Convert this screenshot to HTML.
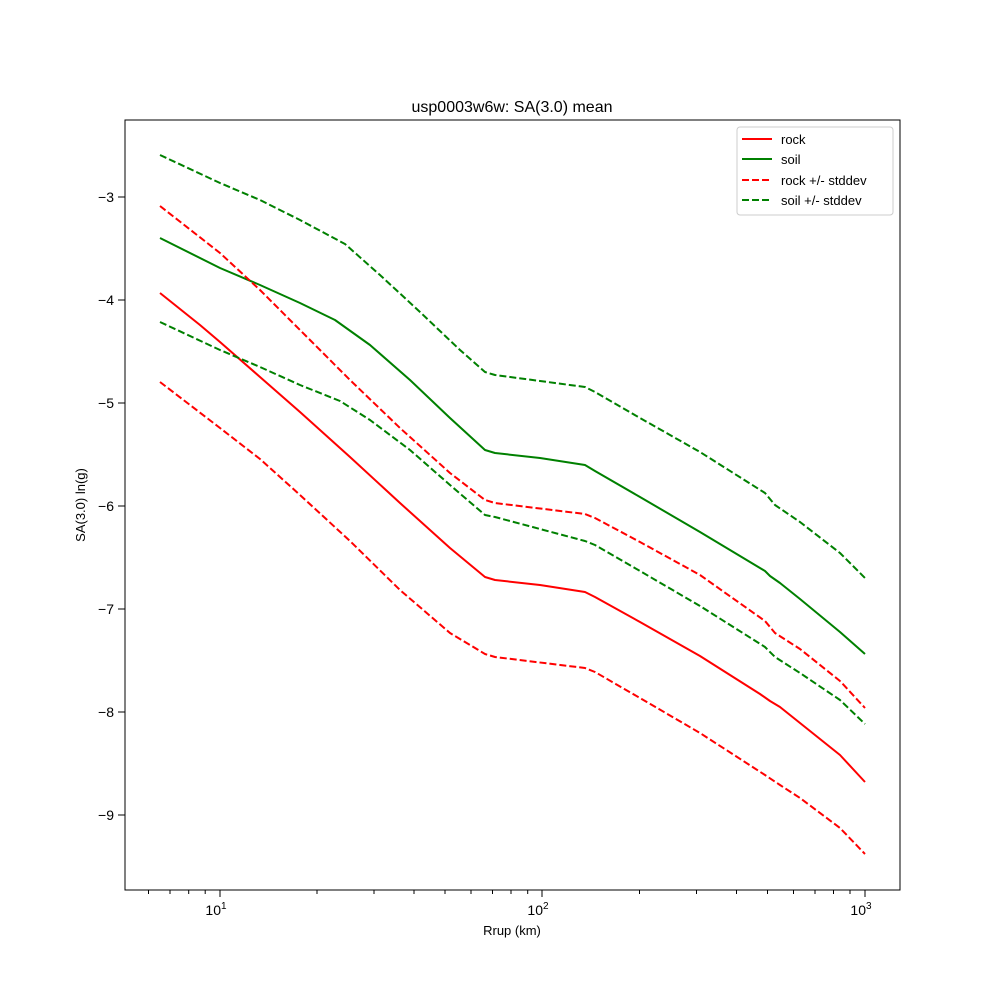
<!DOCTYPE html>
<html><head><meta charset="utf-8"><style>body{margin:0;background:#fff}</style></head><body>
<svg width="1000" height="1000" viewBox="0 0 1000 1000" xmlns="http://www.w3.org/2000/svg" font-family="Liberation Sans, DejaVu Sans, sans-serif">
<rect width="1000" height="1000" fill="#fff"/>
<g fill="none" stroke-width="2" stroke-linejoin="round">
<polyline stroke="#ff0000" points="160,293 175,305 200,325 220,342 260,377 300,412 350,457 400,503 450,548 485,577 495,580 540,585 585,592 595,597 640,622 700,656 760,694 770,701 780,707 800,723 840,755 865,782"/>
<polyline stroke="#008000" points="160,238 220,268 260,285 300,303 335,320 370,345 410,380 450,418 485,450 495,453 540,458 585,465 595,471 640,497 700,532 765,571 770,576 780,583 800,599 840,632 865,654"/>
<g stroke-dasharray="7,3">
<polyline stroke="#ff0000" points="160,206 220,253 260,290 300,330 350,380 400,428 450,473 485,500 495,503 585,514 595,518 640,542 700,575 765,621 775,633 800,649 840,681 865,708"/>
<polyline stroke="#ff0000" points="160,382 220,428 260,459 300,495 350,541 400,590 450,633 485,654 495,657 585,668 595,672 640,698 700,733 765,775 780,785 800,798 840,828 865,854"/>
<polyline stroke="#008000" points="160,155 220,183 260,200 300,220 345,244 380,275 420,312 460,350 485,372 495,375 585,387 595,392 640,418 700,452 765,493 775,505 800,522 840,553 865,578"/>
<polyline stroke="#008000" points="160,322 220,350 260,367 300,385 340,401 370,420 410,450 450,485 485,515 495,517 585,541 595,545 640,571 700,606 765,647 775,657 800,673 840,700 865,724"/>
</g>
</g>
<rect x="125" y="120" width="775" height="770" fill="none" stroke="#000" stroke-width="1"/>
<g stroke="#000" stroke-width="1">
<line x1="220" y1="890" x2="220" y2="897"/><line x1="542" y1="890" x2="542" y2="897"/><line x1="865" y1="890" x2="865" y2="897"/>
<g>
<line x1="148.5" y1="890" x2="148.5" y2="894"/><line x1="170" y1="890" x2="170" y2="894"/><line x1="188.7" y1="890" x2="188.7" y2="894"/><line x1="205.2" y1="890" x2="205.2" y2="894"/>
<line x1="317" y1="890" x2="317" y2="894"/><line x1="374" y1="890" x2="374" y2="894"/><line x1="414" y1="890" x2="414" y2="894"/><line x1="445" y1="890" x2="445" y2="894"/><line x1="471" y1="890" x2="471" y2="894"/><line x1="492.5" y1="890" x2="492.5" y2="894"/><line x1="511" y1="890" x2="511" y2="894"/><line x1="527.7" y1="890" x2="527.7" y2="894"/>
<line x1="639.5" y1="890" x2="639.5" y2="894"/><line x1="696.5" y1="890" x2="696.5" y2="894"/><line x1="736.5" y1="890" x2="736.5" y2="894"/><line x1="767.5" y1="890" x2="767.5" y2="894"/><line x1="793.5" y1="890" x2="793.5" y2="894"/><line x1="815" y1="890" x2="815" y2="894"/><line x1="833.5" y1="890" x2="833.5" y2="894"/><line x1="850" y1="890" x2="850" y2="894"/>
</g>
<line x1="118" y1="197" x2="125" y2="197"/><line x1="118" y1="300" x2="125" y2="300"/><line x1="118" y1="403" x2="125" y2="403"/><line x1="118" y1="506" x2="125" y2="506"/><line x1="118" y1="609" x2="125" y2="609"/><line x1="118" y1="712" x2="125" y2="712"/><line x1="118" y1="815" x2="125" y2="815"/>
</g>
<g font-size="14" fill="#000" text-anchor="middle">
<text x="216" y="915">10<tspan font-size="10" dy="-6">1</tspan></text>
<text x="538" y="915">10<tspan font-size="10" dy="-6">2</tspan></text>
<text x="861" y="915">10<tspan font-size="10" dy="-6">3</tspan></text>
</g>
<g font-size="14" fill="#000" text-anchor="end">
<text x="114" y="202">−3</text><text x="114" y="305">−4</text><text x="114" y="408">−5</text><text x="114" y="511">−6</text><text x="114" y="614">−7</text><text x="114" y="717">−8</text><text x="114" y="820">−9</text>
</g>
<text x="512" y="935" font-size="13" text-anchor="middle">Rrup (km)</text>
<text transform="translate(85,505) rotate(-90)" font-size="13" text-anchor="middle">SA(3.0) ln(g)</text>
<text x="512" y="112" font-size="16" text-anchor="middle">usp0003w6w: SA(3.0) mean</text>
<rect x="737" y="127" width="156" height="88" rx="3" fill="#fff" stroke="#ccc"/>
<g stroke-width="2">
<line x1="742" y1="139" x2="772" y2="139" stroke="#ff0000"/>
<line x1="742" y1="159" x2="772" y2="159" stroke="#008000"/>
<line x1="742" y1="180" x2="772" y2="180" stroke="#ff0000" stroke-dasharray="7,3"/>
<line x1="742" y1="200" x2="772" y2="200" stroke="#008000" stroke-dasharray="7,3"/>
</g>
<g font-size="13" fill="#000">
<text x="781" y="144">rock</text><text x="781" y="164">soil</text><text x="781" y="185">rock +/- stddev</text><text x="781" y="205">soil +/- stddev</text>
</g>
</svg>
</body></html>
